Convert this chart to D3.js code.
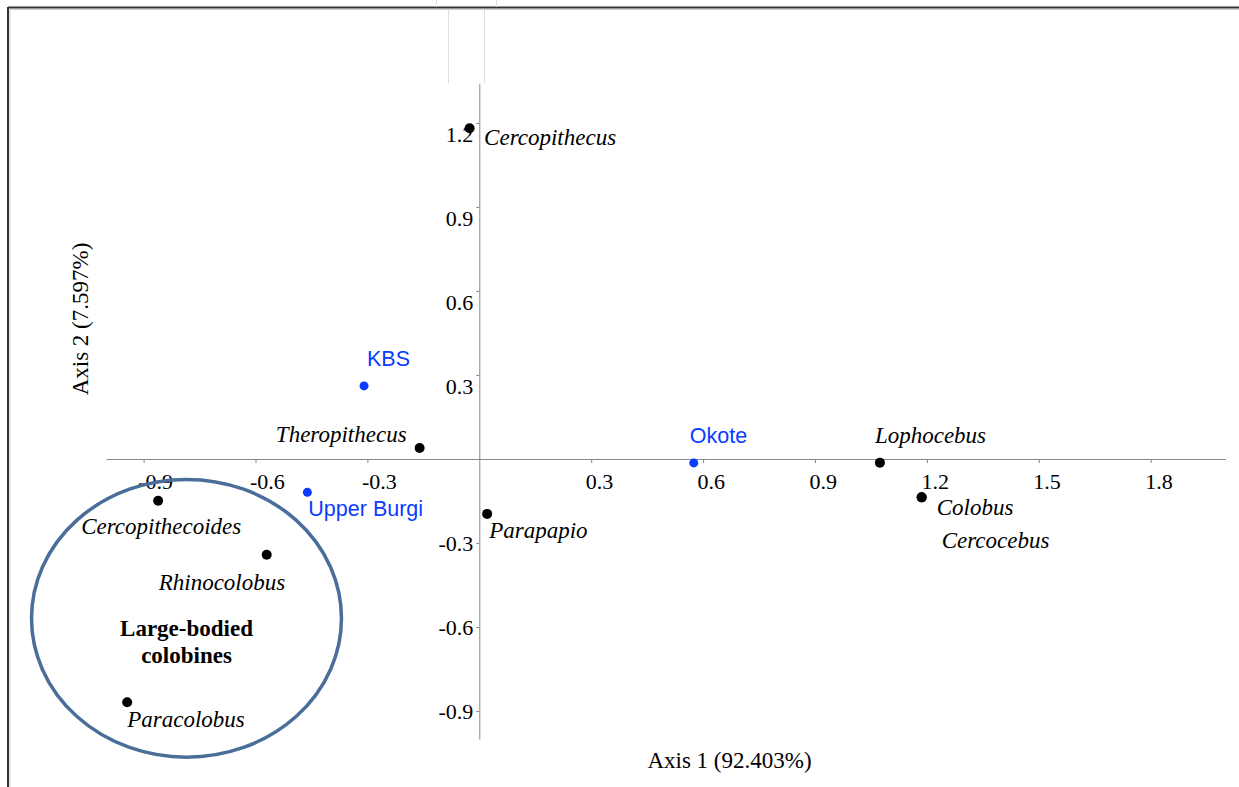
<!DOCTYPE html>
<html lang="en">
<head>
<meta charset="UTF-8">
<title>PCA scatter - Axis 1 / Axis 2</title>
<script src="https://d3js.org/d3.v7.min.js"></script>
<style>
    body { margin: 0; background: #fff; }
    svg { display: block; }
    .tick line, .domain { stroke: #888; }
    .tick text { font-family: "Liberation Serif", "Times New Roman", serif; font-size: 22px; fill: #000; }
    .taxon { font-family: "Liberation Serif", "Times New Roman", serif; font-style: italic; font-size: 23px; }
    .site { font-family: "Liberation Sans", Arial, sans-serif; font-size: 21.5px; fill: #0a3cff; }
    .axis-title { font-family: "Liberation Serif", "Times New Roman", serif; font-size: 23px; }
    .group-label { font-family: "Liberation Serif", "Times New Roman", serif; font-weight: bold; font-size: 23px; }
</style>
</head>
<body>
<svg width="1239" height="787"></svg>
<script>
// genus scores (black)
const taxa = ["Cercopithecus", "Theropithecus", "Lophocebus", "Colobus", "Cercocebus",
              "Parapapio", "Cercopithecoides", "Rhinocolobus", "Paracolobus"];
const taxaAxis1 = [-0.026, -0.160, 1.074, 1.186, 1.186, 0.021, -0.861, -0.570, -0.944];
const taxaAxis2 = [1.181, 0.039, -0.013, -0.137, -0.137, -0.196, -0.149, -0.342, -0.869];

// site scores (blue)
const sites = ["KBS", "Okote", "Upper Burgi"];
const sitesAxis1 = [-0.309, 0.575, -0.461];
const sitesAxis2 = [0.261, -0.014, -0.119];

const xTicks = [-0.9, -0.6, -0.3, 0.3, 0.6, 0.9, 1.2, 1.5, 1.8];
const yTicks = [-0.9, -0.6, -0.3, 0.3, 0.6, 0.9, 1.2];
const xTitle = "Axis 1 (92.403%)";
const yTitle = "Axis 2 (7.597%)";
const groupName = ["Large-bodied", "colobines"];

const svg = d3.select("svg");

// scales: 0 sits at (479.3, 459)
const x = d3.scaleLinear().domain([-1, 2]).range([106.3, 1225.3]);
const y = d3.scaleLinear().domain([-1, 1.34]).range([739, 83.8]);

// plain hyphen for negatives, like the original
const fmt = d => d3.format(".1f")(d).replace("\u2212", "-");

// window frame left over from the screenshot
const frame = svg.append("g");
frame.append("line").attr("x1", 8).attr("x2", 1239).attr("y1", 7.5).attr("y2", 7.5)
    .attr("stroke", "#333").attr("stroke-width", 2);
frame.append("line").attr("x1", 10).attr("x2", 1239).attr("y1", 9.5).attr("y2", 9.5)
    .attr("stroke", "#ccc").attr("stroke-width", 1);
frame.append("line").attr("x1", 8).attr("x2", 8).attr("y1", 7).attr("y2", 787)
    .attr("stroke", "#333").attr("stroke-width", 2);
frame.append("line").attr("x1", 10).attr("x2", 10).attr("y1", 10).attr("y2", 787)
    .attr("stroke", "#ccc").attr("stroke-width", 1);
[[436.5, 0, 7], [496.5, 0, 7], [448.5, 10, 83], [484.5, 10, 83]].forEach(d => {
    frame.append("line").attr("x1", d[0]).attr("x2", d[0]).attr("y1", d[1]).attr("y2", d[2])
        .attr("stroke", "#ddd").attr("stroke-width", 1);
});

// axes crossing at the origin
const xAxis = svg.append("g")
    .attr("transform", `translate(0,${y(0)})`)
    .call(d3.axisBottom(x).tickValues(xTicks).tickSize(4).tickSizeOuter(0).tickFormat(fmt));
xAxis.selectAll(".tick text")
    .attr("text-anchor", "start")
    .attr("x", -6)
    .attr("y", 30)
    .attr("dy", 0);

const yAxis = svg.append("g")
    .attr("transform", `translate(${x(0)},0)`)
    .call(d3.axisLeft(y).tickValues(yTicks).tickSize(3).tickSizeOuter(0).tickFormat(fmt));
yAxis.selectAll(".tick text")
    .attr("text-anchor", "end")
    .attr("x", -6)
    .attr("dy", 0)
    .attr("y", d => d > 0 ? 18 : 7);

svg.selectAll(".domain").attr("stroke-width", 1);

// axis titles
svg.append("text").attr("class", "axis-title")
    .attr("x", 729.5).attr("y", 768).attr("text-anchor", "middle").text(xTitle);
svg.append("text").attr("class", "axis-title")
    .attr("transform", "translate(88,319) rotate(-90)")
    .attr("text-anchor", "middle").text(yTitle);

// ellipse round the large-bodied colobines
const ell = { cx: -0.785, cy: -0.569, rx: 0.4155, ry: 0.496 };
svg.append("ellipse")
    .attr("cx", x(ell.cx)).attr("cy", y(ell.cy))
    .attr("rx", x(ell.rx) - x(0)).attr("ry", y(0) - y(ell.ry))
    .attr("fill", "none").attr("stroke", "#4a6e9a").attr("stroke-width", 3.5);

svg.append("text").attr("class", "group-label")
    .attr("x", x(ell.cx)).attr("y", 635.5).attr("text-anchor", "middle")
    .selectAll("tspan").data(groupName).enter().append("tspan")
    .attr("x", x(ell.cx)).attr("dy", (d, i) => i === 0 ? 0 : 27.5)
    .text(d => d);

// label placement (px offsets from each point)
const taxonOffsets = {
    "Cercopithecus": [14.5, 17, "start"],
    "Theropithecus": [-13, -6, "end"],
    "Lophocebus": [-5, -20, "start"],
    "Colobus": [15, 18, "start"],
    "Cercocebus": [20, 51, "start"],
    "Parapapio": [2, 24, "start"],
    "Cercopithecoides": [-77, 33, "start"],
    "Rhinocolobus": [-108, 35, "start"],
    "Paracolobus": [0, 25, "start"]
};
const siteOffsets = {
    "KBS": [3, -20],
    "Okote": [-4, -20],
    "Upper Burgi": [1, 24]
};

const taxaData = taxa.map((n, i) => ({ name: n, a1: taxaAxis1[i], a2: taxaAxis2[i] }));
const siteData = sites.map((n, i) => ({ name: n, a1: sitesAxis1[i], a2: sitesAxis2[i] }));

svg.selectAll(".taxon-dot").data(taxaData).enter().append("circle")
    .attr("class", "taxon-dot")
    .attr("cx", d => x(d.a1)).attr("cy", d => y(d.a2)).attr("r", 5)
    .attr("fill", "#000");
svg.selectAll(".taxon").data(taxaData).enter().append("text")
    .attr("class", "taxon")
    .attr("x", d => x(d.a1) + taxonOffsets[d.name][0])
    .attr("y", d => y(d.a2) + taxonOffsets[d.name][1])
    .attr("text-anchor", d => taxonOffsets[d.name][2])
    .text(d => d.name);

svg.selectAll(".site-dot").data(siteData).enter().append("circle")
    .attr("class", "site-dot")
    .attr("cx", d => x(d.a1)).attr("cy", d => y(d.a2)).attr("r", 4.5)
    .attr("fill", "#0a3cff");
svg.selectAll(".site").data(siteData).enter().append("text")
    .attr("class", "site")
    .attr("x", d => x(d.a1) + siteOffsets[d.name][0])
    .attr("y", d => y(d.a2) + siteOffsets[d.name][1])
    .text(d => d.name);
</script>
</body>
</html>
